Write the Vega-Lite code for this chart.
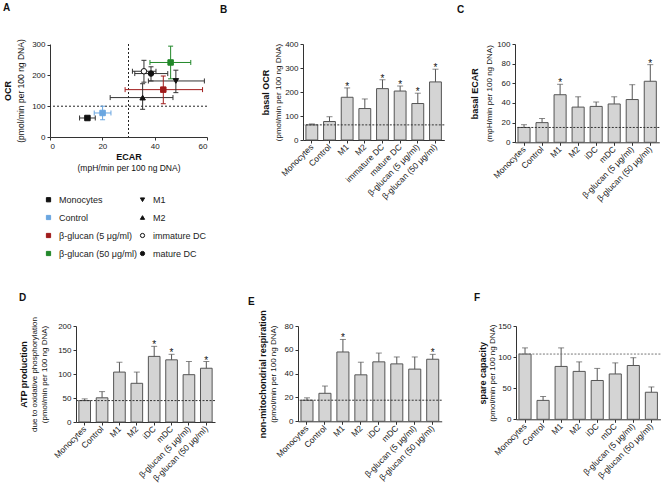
{
  "$schema": "https://vega.github.io/schema/vega-lite/v6.json",
  "padding": {"left": 2, "top": 2, "right": 0, "bottom": 0},
  "config": {
    "view": {"stroke": null},
    "font": "Liberation Sans",
    "axis": {"labelFont": "Liberation Sans", "titleFont": "Liberation Sans", "labelFontSize": 8, "titleFontSize": 8, "labelColor": "#222", "titleColor": "#111", "domainColor": "#333", "tickColor": "#333", "tickSize": 3, "labelPadding": 2, "grid": false, "titleFontWeight": "normal"},
    "title": {"anchor": "start", "frame": "bounds", "font": "Liberation Sans", "fontSize": 10, "fontWeight": "bold", "color": "#111"}
  },
  "datasets": {
    "scatter": [
      {"cell": "Monocytes", "ecar": 14.3, "ecarLo": 11.3, "ecarHi": 17.3, "ocr": 61.7, "ocrLo": 58, "ocrHi": 66},
      {"cell": "Control", "ecar": 20.1, "ecarLo": 16.9, "ecarHi": 23.3, "ocr": 78, "ocrLo": 56, "ocrHi": 100},
      {"cell": "β-glucan (5 μg/ml)", "ecar": 43.3, "ecarLo": 28.7, "ecarHi": 58.3, "ocr": 153.8, "ocrLo": 108, "ocrHi": 198},
      {"cell": "β-glucan (50 μg/ml)", "ecar": 46.1, "ecarLo": 38.2, "ecarHi": 53.8, "ocr": 242, "ocrLo": 189, "ocrHi": 295},
      {"cell": "M1", "ecar": 48.1, "ecarLo": 37.6, "ecarHi": 59, "ocr": 182, "ocrLo": 144, "ocrHi": 217},
      {"cell": "M2", "ecar": 35.4, "ecarLo": 23, "ecarHi": 47, "ocr": 128, "ocrLo": 90, "ocrHi": 173},
      {"cell": "immature DC", "ecar": 35.9, "ecarLo": 31.5, "ecarHi": 40.5, "ocr": 213.5, "ocrLo": 178, "ocrHi": 249},
      {"cell": "mature DC", "ecar": 38.6, "ecarLo": 32.4, "ecarHi": 45, "ocr": 206, "ocrLo": 182, "ocrHi": 228}
    ],
    "refA": [{"ecar": 30, "ocr": 100}],
    "bars": [
      {"panel": "B", "label": "Monocytes", "value": 63, "hi": 67, "sig": false},
      {"panel": "B", "label": "Control", "value": 77, "hi": 97, "sig": false},
      {"panel": "B", "label": "M1", "value": 178, "hi": 217, "sig": true},
      {"panel": "B", "label": "M2", "value": 131, "hi": 171, "sig": false},
      {"panel": "B", "label": "immature DC", "value": 214, "hi": 251, "sig": true},
      {"panel": "B", "label": "mature DC", "value": 204, "hi": 225, "sig": true},
      {"panel": "B", "label": "β-glucan (5 μg/ml)", "value": 152, "hi": 195, "sig": true},
      {"panel": "B", "label": "β-glucan (50 μg/ml)", "value": 242, "hi": 295, "sig": true},
      {"panel": "C", "label": "Monocytes", "value": 15.1, "hi": 17.9, "sig": false},
      {"panel": "C", "label": "Control", "value": 20, "hi": 24.2, "sig": false},
      {"panel": "C", "label": "M1", "value": 48.4, "hi": 59, "sig": true},
      {"panel": "C", "label": "M2", "value": 35.8, "hi": 46.3, "sig": false},
      {"panel": "C", "label": "iDC", "value": 36.5, "hi": 41, "sig": false},
      {"panel": "C", "label": "mDC", "value": 39, "hi": 46.3, "sig": false},
      {"panel": "C", "label": "β-glucan (5 μg/ml)", "value": 43.5, "hi": 58.6, "sig": false},
      {"panel": "C", "label": "β-glucan (50 μg/ml)", "value": 62.1, "hi": 79, "sig": true},
      {"panel": "D", "label": "Monocytes", "value": 44.6, "hi": 48.2, "sig": false},
      {"panel": "D", "label": "Control", "value": 50.4, "hi": 63.3, "sig": false},
      {"panel": "D", "label": "M1", "value": 104, "hi": 124.5, "sig": false},
      {"panel": "D", "label": "M2", "value": 80.6, "hi": 104, "sig": false},
      {"panel": "D", "label": "iDC", "value": 136.7, "hi": 157.6, "sig": true},
      {"panel": "D", "label": "mDC", "value": 129.5, "hi": 141, "sig": true},
      {"panel": "D", "label": "β-glucan (5 μg/ml)", "value": 98.6, "hi": 126, "sig": false},
      {"panel": "D", "label": "β-glucan (50 μg/ml)", "value": 112, "hi": 126, "sig": true},
      {"panel": "E", "label": "Monocytes", "value": 17.7, "hi": 19.7, "sig": false},
      {"panel": "E", "label": "Control", "value": 23.5, "hi": 29.6, "sig": false},
      {"panel": "E", "label": "M1", "value": 58.2, "hi": 68.7, "sig": true},
      {"panel": "E", "label": "M2", "value": 39, "hi": 49.6, "sig": false},
      {"panel": "E", "label": "iDC", "value": 49.9, "hi": 57.3, "sig": false},
      {"panel": "E", "label": "mDC", "value": 48.2, "hi": 54, "sig": false},
      {"panel": "E", "label": "β-glucan (5 μg/ml)", "value": 43.8, "hi": 54, "sig": false},
      {"panel": "E", "label": "β-glucan (50 μg/ml)", "value": 52.1, "hi": 56.2, "sig": true},
      {"panel": "F", "label": "Monocytes", "value": 104.9, "hi": 114.8, "sig": false},
      {"panel": "F", "label": "Control", "value": 30.4, "hi": 36.7, "sig": false},
      {"panel": "F", "label": "M1", "value": 85, "hi": 114.8, "sig": false},
      {"panel": "F", "label": "M2", "value": 77, "hi": 92.3, "sig": false},
      {"panel": "F", "label": "iDC", "value": 62.4, "hi": 81.8, "sig": false},
      {"panel": "F", "label": "mDC", "value": 72.9, "hi": 90.7, "sig": false},
      {"panel": "F", "label": "β-glucan (5 μg/ml)", "value": 86.5, "hi": 99, "sig": false},
      {"panel": "F", "label": "β-glucan (50 μg/ml)", "value": 43.5, "hi": 52, "sig": false}
    ]
  },
  "spacing": 89,
  "vconcat": [
    {
      "concat": [
        {"data": {"values": []}, "mark": "point", "width": 1, "height": 1},
        {
          "concat": [
            {
              "title": {"text": "A", "dx": 0, "offset": 26},
              "width": 157, "height": 93,
              "data": {"name": "scatter"},
              "resolve": {"axis": {"x": "independent", "y": "independent"}},
              "layer": [
                {"data": {"name": "refA"}, "mark": {"type": "rule", "strokeDash": [2, 2], "color": "#222", "strokeWidth": 1},
                 "encoding": {"x": {"field": "ecar", "type": "quantitative", "axis": {"orient": "bottom", "title": "(mpH/min per 100 ng DNA)", "labels": false, "ticks": false, "domain": false, "titlePadding": 26, "titleFontSize": 8.5}}}},
                {"data": {"name": "refA"}, "mark": {"type": "rule", "strokeDash": [2, 2], "color": "#222", "strokeWidth": 1},
                 "encoding": {"y": {"field": "ocr", "type": "quantitative", "axis": {"orient": "left", "title": "OCR", "labels": false, "ticks": false, "domain": false, "titlePadding": 38, "titleFontWeight": "bold", "titleFontSize": 9}}}},
                {"mark": {"type": "rule", "strokeWidth": 1},
                 "encoding": {"x": {"field": "ecarLo", "type": "quantitative", "axis": null}, "x2": {"field": "ecarHi"}, "y": {"field": "ocr", "type": "quantitative", "axis": null},
                   "color": {"field": "cell", "type": "nominal", "scale": {"domain": ["M1", "M2", "immature DC", "mature DC", "Monocytes", "Control", "β-glucan (5 μg/ml)", "β-glucan (50 μg/ml)"], "range": ["#333333", "#333333", "#333333", "#333333", "#333333", "#6aa6e0", "#a01c1c", "#22882a"]}, "legend": null}}},
                {"mark": {"type": "rule", "strokeWidth": 1},
                 "encoding": {"x": {"field": "ecar", "type": "quantitative", "axis": null}, "y": {"field": "ocrLo", "type": "quantitative", "axis": null}, "y2": {"field": "ocrHi"},
                   "color": {"field": "cell", "type": "nominal", "legend": null}}},
                {"mark": {"type": "point", "shape": "M0,-1L0,1", "size": 25, "strokeWidth": 1, "opacity": 1, "filled": false},
                 "encoding": {"x": {"field": "ecarLo", "type": "quantitative", "axis": null}, "y": {"field": "ocr", "type": "quantitative", "axis": null}, "color": {"field": "cell", "type": "nominal", "legend": null}}},
                {"mark": {"type": "point", "shape": "M0,-1L0,1", "size": 25, "strokeWidth": 1, "opacity": 1, "filled": false},
                 "encoding": {"x": {"field": "ecarHi", "type": "quantitative", "axis": null}, "y": {"field": "ocr", "type": "quantitative", "axis": null}, "color": {"field": "cell", "type": "nominal", "legend": null}}},
                {"mark": {"type": "point", "shape": "M-1,0L1,0", "size": 25, "strokeWidth": 1, "opacity": 1, "filled": false},
                 "encoding": {"x": {"field": "ecar", "type": "quantitative", "axis": null}, "y": {"field": "ocrLo", "type": "quantitative", "axis": null}, "color": {"field": "cell", "type": "nominal", "legend": null}}},
                {"mark": {"type": "point", "shape": "M-1,0L1,0", "size": 25, "strokeWidth": 1, "opacity": 1, "filled": false},
                 "encoding": {"x": {"field": "ecar", "type": "quantitative", "axis": null}, "y": {"field": "ocrHi", "type": "quantitative", "axis": null}, "color": {"field": "cell", "type": "nominal", "legend": null}}},
                {"mark": {"type": "point", "size": 30, "strokeWidth": 1, "opacity": 1},
                 "encoding": {
                   "x": {"field": "ecar", "type": "quantitative", "scale": {"domain": [0, 60], "nice": false}, "axis": {"orient": "bottom", "values": [0, 20, 40, 60], "title": "ECAR", "titleFontWeight": "bold", "titleFontSize": 9, "titlePadding": 2}},
                   "y": {"field": "ocr", "type": "quantitative", "scale": {"domain": [0, 302], "nice": false}, "axis": {"orient": "left", "values": [0, 100, 200, 300], "title": "(pmol/min per 100 ng DNA)", "titleFontSize": 8.5, "titlePadding": 6}},
                   "shape": {"field": "cell", "type": "nominal",
                     "scale": {"domain": ["Monocytes", "Control", "β-glucan (5 μg/ml)", "β-glucan (50 μg/ml)", "M1", "M2", "immature DC", "mature DC"], "range": ["square", "square", "square", "square", "triangle-down", "triangle-up", "circle", "circle"]},
                     "legend": {"title": null, "orient": "none", "legendX": 42, "legendY": 151, "columns": 2, "symbolSize": 18, "labelFontSize": 9, "labelFont": "Liberation Sans", "labelColor": "#222", "rowPadding": 8, "columnPadding": 1, "symbolStrokeWidth": 1, "labelOffset": 6, "padding": 0}},
                   "fill": {"field": "cell", "type": "nominal",
                     "scale": {"domain": ["Monocytes", "Control", "β-glucan (5 μg/ml)", "β-glucan (50 μg/ml)", "M1", "M2", "immature DC", "mature DC"], "range": ["#111111", "#6aa6e0", "#a01c1c", "#22882a", "#111111", "#111111", "#ffffff", "#111111"]},
                     "legend": {"title": null, "orient": "none", "legendX": 42, "legendY": 151, "columns": 2, "symbolSize": 18, "labelFontSize": 9, "labelFont": "Liberation Sans", "labelColor": "#222", "rowPadding": 8, "columnPadding": 1, "symbolStrokeWidth": 1, "labelOffset": 6, "padding": 0}},
                   "stroke": {"field": "cell", "type": "nominal",
                     "scale": {"domain": ["Monocytes", "Control", "β-glucan (5 μg/ml)", "β-glucan (50 μg/ml)", "M1", "M2", "immature DC", "mature DC"], "range": ["#111111", "#6aa6e0", "#a01c1c", "#22882a", "#111111", "#111111", "#111111", "#111111"]},
                     "legend": {"title": null, "orient": "none", "legendX": 42, "legendY": 151, "columns": 2, "symbolSize": 18, "labelFontSize": 9, "labelFont": "Liberation Sans", "labelColor": "#222", "rowPadding": 8, "columnPadding": 1, "symbolStrokeWidth": 1, "labelOffset": 6, "padding": 0}}
                 }}
              ]
            },
            {
              "title": {"text": "B", "dx": -41, "offset": 25},
              "width": 141.3, "height": 96,
              "data": {"name": "bars"},
              "transform": [{"filter": "datum.panel === 'B'"}],
              "resolve": {"axis": {"y": "independent"}},
              "layer": [
                {"mark": {"type": "bar", "fill": "#d4d4d4", "stroke": "#555555", "strokeWidth": 1},
                 "encoding": {
                   "x": {"field": "label", "type": "nominal", "sort": null, "scale": {"paddingInner": 0.33, "paddingOuter": 0.165}, "axis": {"title": null, "labelAngle": -45, "labelAlign": "right", "labelBaseline": "middle", "labelFontSize": 8.5}},
                   "y": {"field": "value", "type": "quantitative", "scale": {"domain": [0, 400], "nice": false}, "axis": {"orient": "left", "values": [0, 100, 200, 300, 400], "title": "(pmol/min per 100 ng DNA)", "titlePadding": 2}}}},
                {"mark": {"type": "rule", "color": "#555555"},
                 "encoding": {"x": {"field": "label", "type": "nominal", "sort": null}, "y": {"field": "value", "type": "quantitative", "axis": null}, "y2": {"field": "hi"}}},
                {"mark": {"type": "tick", "orient": "horizontal", "size": 6, "thickness": 1, "color": "#555555"},
                 "encoding": {"x": {"field": "label", "type": "nominal", "sort": null}, "y": {"field": "hi", "type": "quantitative", "axis": null}}},
                {"transform": [{"filter": "datum.sig"}], "mark": {"type": "text", "text": "*", "fontSize": 10, "baseline": "alphabetic", "dy": 2, "color": "#111"},
                 "encoding": {"x": {"field": "label", "type": "nominal", "sort": null}, "y": {"field": "hi", "type": "quantitative", "axis": null}}},
                {"transform": [{"filter": "datum.label === 'Monocytes'"}], "mark": {"type": "rule", "strokeDash": [2, 1.5], "color": "#333333"},
                 "encoding": {"y": {"field": "value", "type": "quantitative", "axis": {"orient": "left", "title": "basal OCR", "labels": false, "ticks": false, "domain": false, "titlePadding": 33, "titleFontWeight": "bold", "titleFontSize": 9}}}}
              ]
            },
            {
              "title": {"text": "C", "dx": -13, "offset": 25},
              "width": 144.3, "height": 98.3,
              "data": {"name": "bars"},
              "transform": [{"filter": "datum.panel === 'C'"}],
              "resolve": {"axis": {"y": "independent"}},
              "layer": [
                {"mark": {"type": "bar", "fill": "#d4d4d4", "stroke": "#555555", "strokeWidth": 1},
                 "encoding": {
                   "x": {"field": "label", "type": "nominal", "sort": null, "scale": {"paddingInner": 0.33, "paddingOuter": 0.165}, "axis": {"title": null, "labelAngle": -45, "labelAlign": "right", "labelBaseline": "middle", "labelFontSize": 8.5}},
                   "y": {"field": "value", "type": "quantitative", "scale": {"domain": [0, 100], "nice": false}, "axis": {"orient": "left", "values": [0, 20, 40, 60, 80, 100], "title": "(mpH/min per 100 ng DNA)", "titlePadding": 3}}}},
                {"mark": {"type": "rule", "color": "#555555"},
                 "encoding": {"x": {"field": "label", "type": "nominal", "sort": null}, "y": {"field": "value", "type": "quantitative", "axis": null}, "y2": {"field": "hi"}}},
                {"mark": {"type": "tick", "orient": "horizontal", "size": 6, "thickness": 1, "color": "#555555"},
                 "encoding": {"x": {"field": "label", "type": "nominal", "sort": null}, "y": {"field": "hi", "type": "quantitative", "axis": null}}},
                {"transform": [{"filter": "datum.sig"}], "mark": {"type": "text", "text": "*", "fontSize": 10, "baseline": "alphabetic", "dy": 2, "color": "#111"},
                 "encoding": {"x": {"field": "label", "type": "nominal", "sort": null}, "y": {"field": "hi", "type": "quantitative", "axis": null}}},
                {"transform": [{"filter": "datum.label === 'Monocytes'"}], "mark": {"type": "rule", "strokeDash": [2, 1.5], "color": "#333333"},
                 "encoding": {"y": {"field": "value", "type": "quantitative", "axis": {"orient": "left", "title": "basal ECAR", "labels": false, "ticks": false, "domain": false, "titlePadding": 36, "titleFontWeight": "bold", "titleFontSize": 9}}}}
              ]
            }
          ],
          "columns": 3, "align": "none", "spacing": 12
        }
      ],
      "columns": 2, "align": "none", "spacing": 0
    },
    {
      "concat": [
        {"data": {"values": []}, "mark": "point", "width": 17, "height": 1},
        {
          "concat": [
            {
              "title": {"text": "D", "dx": 0, "offset": 14},
              "width": 139, "height": 96,
              "data": {"name": "bars"},
              "transform": [{"filter": "datum.panel === 'D'"}],
              "resolve": {"axis": {"y": "independent"}},
              "layer": [
                {"mark": {"type": "bar", "fill": "#d4d4d4", "stroke": "#555555", "strokeWidth": 1},
                 "encoding": {
                   "x": {"field": "label", "type": "nominal", "sort": null, "scale": {"paddingInner": 0.33, "paddingOuter": 0.165}, "axis": {"title": null, "labelAngle": -45, "labelAlign": "right", "labelBaseline": "middle", "labelFontSize": 8.5}},
                   "y": {"field": "value", "type": "quantitative", "scale": {"domain": [0, 200], "nice": false}, "axis": {"orient": "left", "values": [0, 50, 100, 150, 200], "title": ["due to oxidative phosphorylation", "(pmol/min per 100 ng DNA)"], "titlePadding": 9, "titleLineHeight": 10}}}},
                {"mark": {"type": "rule", "color": "#555555"},
                 "encoding": {"x": {"field": "label", "type": "nominal", "sort": null}, "y": {"field": "value", "type": "quantitative", "axis": null}, "y2": {"field": "hi"}}},
                {"mark": {"type": "tick", "orient": "horizontal", "size": 6, "thickness": 1, "color": "#555555"},
                 "encoding": {"x": {"field": "label", "type": "nominal", "sort": null}, "y": {"field": "hi", "type": "quantitative", "axis": null}}},
                {"transform": [{"filter": "datum.sig"}], "mark": {"type": "text", "text": "*", "fontSize": 10, "baseline": "alphabetic", "dy": 2, "color": "#111"},
                 "encoding": {"x": {"field": "label", "type": "nominal", "sort": null}, "y": {"field": "hi", "type": "quantitative", "axis": null}}},
                {"transform": [{"filter": "datum.label === 'Monocytes'"}], "mark": {"type": "rule", "strokeDash": [2, 1.5], "color": "#333333"},
                 "encoding": {"y": {"field": "value", "type": "quantitative", "axis": {"orient": "left", "title": "ATP production", "labels": false, "ticks": false, "domain": false, "titlePadding": 48, "titleFontWeight": "bold", "titleFontSize": 9}}}}
              ]
            },
            {
              "title": {"text": "E", "dx": -10, "offset": 3},
              "width": 143.7, "height": 95.3,
              "data": {"name": "bars"},
              "transform": [{"filter": "datum.panel === 'E'"}],
              "resolve": {"axis": {"y": "independent"}},
              "layer": [
                {"mark": {"type": "bar", "fill": "#d4d4d4", "stroke": "#555555", "strokeWidth": 1},
                 "encoding": {
                   "x": {"field": "label", "type": "nominal", "sort": null, "scale": {"paddingInner": 0.33, "paddingOuter": 0.165}, "axis": {"title": null, "labelAngle": -45, "labelAlign": "right", "labelBaseline": "middle", "labelFontSize": 8.5}},
                   "y": {"field": "value", "type": "quantitative", "scale": {"domain": [0, 80], "nice": false}, "axis": {"orient": "left", "values": [0, 20, 40, 60, 80], "title": "(pmol/min per 100 ng DNA)", "titlePadding": 7}}}},
                {"mark": {"type": "rule", "color": "#555555"},
                 "encoding": {"x": {"field": "label", "type": "nominal", "sort": null}, "y": {"field": "value", "type": "quantitative", "axis": null}, "y2": {"field": "hi"}}},
                {"mark": {"type": "tick", "orient": "horizontal", "size": 6, "thickness": 1, "color": "#555555"},
                 "encoding": {"x": {"field": "label", "type": "nominal", "sort": null}, "y": {"field": "hi", "type": "quantitative", "axis": null}}},
                {"transform": [{"filter": "datum.sig"}], "mark": {"type": "text", "text": "*", "fontSize": 10, "baseline": "alphabetic", "dy": 2, "color": "#111"},
                 "encoding": {"x": {"field": "label", "type": "nominal", "sort": null}, "y": {"field": "hi", "type": "quantitative", "axis": null}}},
                {"transform": [{"filter": "datum.label === 'Monocytes'"}], "mark": {"type": "rule", "strokeDash": [2, 1.5], "color": "#333333"},
                 "encoding": {"y": {"field": "value", "type": "quantitative", "axis": {"orient": "left", "title": "non-mitochondrial respiration", "labels": false, "ticks": false, "domain": false, "titlePadding": 31, "titleFontWeight": "bold", "titleFontSize": 9}}}}
              ]
            },
            {
              "title": {"text": "F", "dx": -4, "offset": 19},
              "width": 144.4, "height": 93.3,
              "data": {"name": "bars"},
              "transform": [{"filter": "datum.panel === 'F'"}],
              "resolve": {"axis": {"y": "independent"}},
              "layer": [
                {"mark": {"type": "bar", "fill": "#d4d4d4", "stroke": "#555555", "strokeWidth": 1},
                 "encoding": {
                   "x": {"field": "label", "type": "nominal", "sort": null, "scale": {"paddingInner": 0.33, "paddingOuter": 0.165}, "axis": {"title": null, "labelAngle": -45, "labelAlign": "right", "labelBaseline": "middle", "labelFontSize": 8.5}},
                   "y": {"field": "value", "type": "quantitative", "scale": {"domain": [0, 150], "nice": false}, "axis": {"orient": "left", "values": [0, 50, 100, 150], "title": "(pmol/min per 100 ng DNA)", "titlePadding": 1}}}},
                {"mark": {"type": "rule", "color": "#555555"},
                 "encoding": {"x": {"field": "label", "type": "nominal", "sort": null}, "y": {"field": "value", "type": "quantitative", "axis": null}, "y2": {"field": "hi"}}},
                {"mark": {"type": "tick", "orient": "horizontal", "size": 6, "thickness": 1, "color": "#555555"},
                 "encoding": {"x": {"field": "label", "type": "nominal", "sort": null}, "y": {"field": "hi", "type": "quantitative", "axis": null}}},
                {"transform": [{"filter": "datum.sig"}], "mark": {"type": "text", "text": "*", "fontSize": 10, "baseline": "alphabetic", "dy": 2, "color": "#111"},
                 "encoding": {"x": {"field": "label", "type": "nominal", "sort": null}, "y": {"field": "hi", "type": "quantitative", "axis": null}}},
                {"transform": [{"filter": "datum.label === 'Monocytes'"}], "mark": {"type": "rule", "strokeDash": [2, 1.5], "color": "#777777"},
                 "encoding": {"y": {"field": "value", "type": "quantitative", "axis": {"orient": "left", "title": "spare capacity", "labels": false, "ticks": false, "domain": false, "titlePadding": 29, "titleFontWeight": "bold", "titleFontSize": 9}}}}
              ]
            }
          ],
          "columns": 3, "align": "none", "spacing": 31
        }
      ],
      "columns": 2, "align": "none", "spacing": 0
    }
  ]
}
